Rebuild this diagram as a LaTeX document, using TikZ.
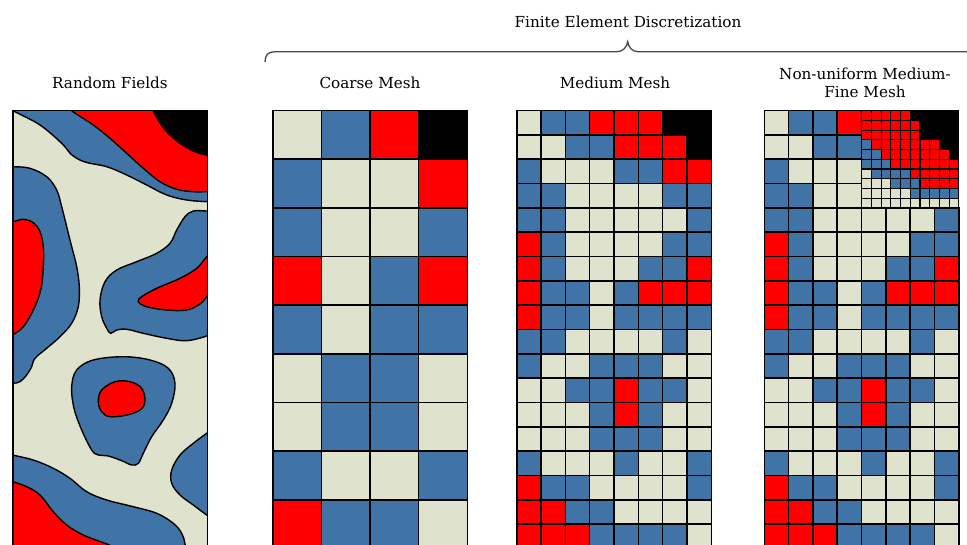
\documentclass[tikz,border=0pt]{standalone}
\usepackage{fontspec}
\setmainfont{DejaVu Serif}
\definecolor{colC}{RGB}{223,227,206}
\definecolor{colB}{RGB}{64,116,166}
\definecolor{colR}{RGB}{255,0,0}
\definecolor{colK}{RGB}{0,0,0}
\definecolor{bracegray}{RGB}{72,72,72}
\begin{document}
\begin{tikzpicture}[x=1pt,y=-1pt,
  cell/.style={draw=black, line width=1.6pt},
  finecell/.style={draw=black, line width=1.1pt},
  contour/.style={draw=black, line width=1.4pt},
  lbl/.style={font=\fontsize{15.2}{18}\selectfont, inner sep=0pt, text=black},
  bracestyle/.style={draw=bracegray, line width=1.3pt}]
\useasboundingbox (0,0) rectangle (967,544);
\clip (0,0) rectangle (967,544);
\def\s{24.33}
\def\yo{110.6}
% ---------- labels ----------
\node[lbl, anchor=base] (fed) at (628,27) {Finite Element Discretization};
\node[lbl, anchor=base] (rfl) at (110,88.3) {Random Fields};
\node[lbl, anchor=base] (cml) at (370,88.3) {Coarse Mesh};
\node[lbl, anchor=base] (mml) at (615,88.3) {Medium Mesh};
\node[lbl, anchor=base, align=center] (nml) at (865,97.3) {Non-uniform Medium-\\Fine Mesh};
% ---------- brace ----------
\coordinate (bl) at (265,62);
\coordinate (bt) at (627.7,41.7);
\coordinate (br) at (990,62);
\draw[bracestyle] (bl) .. controls (265,55) and (268,51.7) .. (275,51.7) -- (617,51.7)
  .. controls (623,51.7) and (627,47) .. (bt)
  .. controls (628.5,47) and (632,51.7) .. (638,51.7) -- (980,51.7)
  .. controls (987,51.7) and (990,55) .. (br);
% ---------- random field ----------
\begin{scope}
\clip (12.7,\yo) rectangle (207.3,600);
\fill[colC] (12.7,\yo) rectangle (207.3,600);
% top blue band
\filldraw[fill=colB, contour] plot[smooth, tension=0.6] coordinates {(2,104) (15,111.7) (40,125) (61.7,143.3) (72,155) (85,162) (106.7,166.7) (126.7,175) (146.7,185) (166.7,195) (186.7,200) (206.7,201.7) (220,202)} -- (220,95) -- (2,95) -- cycle;
% red
\filldraw[fill=colR, contour] plot[smooth, tension=0.6] coordinates {(66,104) (71.7,110.7) (78,115) (93.3,125) (110,138.3) (126.7,153.3) (143.3,168.3) (160,181.7) (176.7,189.3) (193.3,191.7) (206.7,191.7) (220,191.7)} -- (220,95) -- (66,95) -- cycle;
% black corner
\filldraw[fill=colK, contour] plot[smooth, tension=0.6] coordinates {(151,100) (153.3,110.7) (158.3,120) (166.7,131.7) (180,143.3) (195,151.7) (206.7,155) (220,158)} -- (220,95) -- (151,95) -- cycle;
% left blob
\filldraw[fill=colB, contour] plot[smooth, tension=0.6] coordinates {(0,166.7) (12.7,166.7) (30,168.3) (46.7,176.7) (56.7,190) (61.7,206.7) (66.7,226.7) (71.7,246.7) (76.7,266.7) (79.3,286.7) (78.3,306.7) (71.7,323.3) (60,336.7) (46.7,348.3) (35,358.3) (31.7,366.7) (26.7,375) (20,381.7) (12.7,383.3) (0,384)} -- cycle;
\filldraw[fill=colR, contour] plot[smooth, tension=0.6] coordinates {(0,222) (12.7,221.7) (23.3,219.3) (33.3,222.7) (40,231.7) (43.3,246.7) (43.3,266.7) (40.7,290) (33.3,310) (23.3,326.7) (12.7,335) (0,342)} -- cycle;
% right blob
\filldraw[fill=colB, contour] plot[smooth, tension=0.6] coordinates {(220,211) (206.7,211) (193.3,211) (185,216.7) (176.7,230) (170,243.3) (156.7,253.3) (136.7,261.7) (116.7,270) (105,281.7) (100,300) (101.7,316.7) (106.7,328.3) (110.7,333.3) (116.7,330) (126.7,329.3) (143.3,333.3) (166.7,338.3) (186.7,340.7) (206.7,336) (220,330)} -- cycle;
\filldraw[fill=colR, contour] plot[smooth, tension=0.6] coordinates {(218,246) (206.7,256.7) (196.7,268.3) (180,278.3) (156.7,288.3) (141.7,296.7) (138.3,301.7) (146.7,306.7) (166.7,310) (186.7,310) (200,304) (206.7,296.7) (216,286)} -- cycle;
% center blob
\filldraw[fill=colB, contour] plot[smooth cycle, tension=0.6] coordinates {(71.7,386.7) (76.7,370) (93.3,360) (123.3,356.7) (150,360) (168.3,368.3) (175,383.3) (171.7,403.3) (163.3,420) (151.7,436.7) (143.3,453.3) (138.3,463.3) (131.7,465) (121.7,460.7) (108.3,456) (98.3,455) (91.7,450) (81.7,430) (74,408.3)};
\filldraw[fill=colR, contour] plot[smooth cycle, tension=0.6] coordinates {(98.3,401.7) (101.7,390) (115,381.7) (130,381.7) (141.7,388.3) (145,401.7) (140,410) (126.7,415) (110,416.7) (101.7,411.7)};
% right lower blob
\filldraw[fill=colB, contour] plot[smooth, tension=0.6] coordinates {(220,424) (206.7,433.3) (193.3,443.3) (180,455) (171.7,470) (171.7,483.3) (180,495) (193.3,505) (206.7,515) (220,524)} -- cycle;
% bottom band
\filldraw[fill=colB, contour] plot[smooth, tension=0.6] coordinates {(0,451) (12.7,455) (33.3,460) (53.3,468.3) (70,478.3) (86.7,491.7) (106.7,500) (133.3,506.7) (156.7,513.3) (173.3,523.3) (181.7,533.3) (185,544) (187,560)} -- (187,580) -- (0,580) -- cycle;
\filldraw[fill=colR, contour] plot[smooth, tension=0.6] coordinates {(0,478) (12.7,481.7) (26.7,486.7) (40,495) (53.3,511.7) (66.7,525) (83.3,535) (106.7,544) (125,552)} -- (125,580) -- (0,580) -- cycle;
\end{scope}
\draw[line width=1.6pt] (12.7,600) -- (12.7,\yo) -- (207.3,\yo) -- (207.3,600);
% ---------- coarse mesh ----------
\foreach \row [count=\r from 0] in {{C,B,R,K},{B,C,C,R},{B,C,C,B},{R,C,B,R},{B,C,B,B},{C,B,B,C},{C,B,B,C},{B,C,C,B},{R,B,B,C},{C,B,B,C}} {
  \foreach \c [count=\i from 0] in \row {
    \filldraw[cell, fill=col\c] ({272.7+\i*2*\s},{\yo+\r*2*\s}) rectangle ++({2*\s},{2*\s});
  }
}
% ---------- medium mesh ----------
\foreach \row [count=\r from 0] in {
  {C,B,B,R,R,R,K,K},{C,C,B,B,R,R,R,K},{B,C,C,C,B,B,R,R},{B,B,C,C,C,C,B,B},
  {B,B,C,C,C,C,C,B},{R,B,C,C,C,C,B,B},{R,B,C,C,C,B,B,R},{R,B,B,C,B,R,R,R},
  {R,B,B,C,B,B,B,B},{B,B,C,C,C,C,B,C},{B,C,C,B,B,B,C,C},{C,C,B,B,R,B,B,C},
  {C,C,C,B,R,B,C,C},{C,C,C,B,B,B,C,C},{B,C,C,C,B,C,C,B},{R,B,B,C,C,C,C,B},
  {R,R,B,B,C,C,C,C},{R,R,R,B,B,B,B,C}} {
  \foreach \c [count=\i from 0] in \row {
    \filldraw[cell, fill=col\c] ({516.7+\i*\s},{\yo+\r*\s}) rectangle ++(\s,\s);
  }
}
% ---------- non-uniform mesh ----------
\foreach \row [count=\r from 0] in {{C,B,B,R},{C,C,B,B},{B,C,C,C},{B,B,C,C}} {
  \foreach \c [count=\i from 0] in \row {
    \filldraw[cell, fill=col\c] ({764.3+\i*\s},{\yo+\r*\s}) rectangle ++(\s,\s);
  }
}
\foreach \row [count=\r from 4] in {
  {B,B,C,C,C,C,C,B},{R,B,C,C,C,C,B,B},{R,B,C,C,C,B,B,R},{R,B,B,C,B,R,R,R},
  {R,B,B,C,B,B,B,B},{B,B,C,C,C,C,B,C},{B,C,C,B,B,B,C,C},{C,C,B,B,R,B,B,C},
  {C,C,C,B,R,B,C,C},{C,C,C,B,B,B,C,C},{B,C,C,C,B,C,C,B},{R,B,B,C,C,C,C,B},
  {R,R,B,B,C,C,C,C},{R,R,R,B,B,B,B,C}} {
  \foreach \c [count=\i from 0] in \row {
    \filldraw[cell, fill=col\c] ({764.3+\i*\s},{\yo+\r*\s}) rectangle ++(\s,\s);
  }
}
\foreach \row [count=\r from 0] in {
  {R,R,R,R,R,K,K,K,K,K},{R,R,R,R,R,R,K,K,K,K},{R,R,R,R,R,R,K,K,K,K},
  {B,R,R,R,R,R,R,R,K,K},{B,B,R,R,R,R,R,R,R,K},{B,B,B,R,R,R,R,R,R,R},
  {C,B,B,B,B,R,R,R,R,R},{C,C,C,B,B,B,R,R,R,R},{C,C,C,C,C,B,B,B,B,B},
  {C,C,C,C,C,C,C,C,C,C}} {
  \foreach \c [count=\i from 0] in \row {
    \filldraw[finecell, fill=col\c] ({764.3+4*\s+\i*0.4*\s},{\yo+\r*0.4*\s}) rectangle ++({0.4*\s},{0.4*\s});
  }
}
\end{tikzpicture}
\end{document}
